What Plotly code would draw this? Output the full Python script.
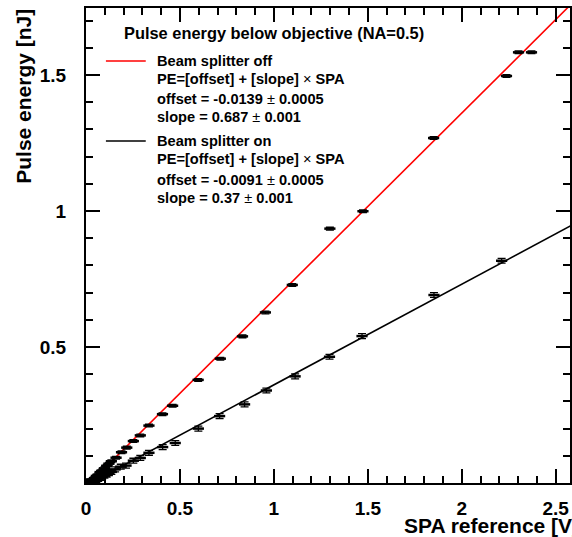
import plotly.graph_objects as go

# ---- data ----
off_x = [0.012, 0.020, 0.028, 0.036, 0.045, 0.055, 0.065, 0.075, 0.086, 0.098, 0.110, 0.122, 0.135,
         0.160, 0.189, 0.217, 0.252, 0.289, 0.335, 0.407, 0.461, 0.597, 0.715, 0.833, 0.955, 1.098,
         1.298, 1.474, 1.850, 2.238, 2.302, 2.371]
off_y = [0.004, 0.010, 0.006, 0.012, 0.018, 0.026, 0.031, 0.040, 0.046, 0.054, 0.063, 0.071, 0.080,
         0.093, 0.113, 0.130, 0.154, 0.175, 0.211, 0.253, 0.284, 0.379, 0.457, 0.539, 0.627, 0.728,
         0.935, 0.999, 1.268, 1.496, 1.583, 1.583]
off_err = [0.005] * len(off_x)

on_x = [0.012, 0.020, 0.028, 0.036, 0.045, 0.055, 0.065, 0.075, 0.086, 0.098, 0.110, 0.122, 0.135,
        0.155, 0.185, 0.213, 0.252, 0.289, 0.335, 0.408, 0.475, 0.598, 0.711, 0.844, 0.960, 1.113,
        1.296, 1.469, 1.852, 2.212]
on_y = [0.003, 0.004, 0.002, 0.006, 0.008, 0.011, 0.015, 0.019, 0.023, 0.027, 0.031, 0.036, 0.041,
        0.050, 0.060, 0.064, 0.082, 0.092, 0.111, 0.132, 0.147, 0.200, 0.246, 0.289, 0.340, 0.392,
        0.464, 0.540, 0.691, 0.817]
on_err = [0.009] * len(on_x)

fit_off = {"offset": -0.0139, "slope": 0.687}
fit_on = {"offset": -0.0091, "slope": 0.37}
fit_x = [0.0, 2.6]

x_ticks = [0, 0.5, 1, 1.5, 2, 2.5]
x_ticklabels = ["0", "0.5", "1", "1.5", "2", "2.5"]
y_ticks = [0.5, 1, 1.5]
y_ticklabels = ["0.5", "1", "1.5"]

X_RANGE = [0, 2.576]
Y_RANGE = [0, 1.746]

FONT = "Liberation Sans"
W, H = 572, 537
L, R, T, B = 86, 0, 8, 54
PW, PH = W - L - R, H - T - B


def px(x):
    return (x - L) / PW


def py(y):
    return (H - B - y) / PH


fig = go.Figure()

fig.add_trace(go.Scatter(
    x=fit_x, y=[fit_off["offset"] + fit_off["slope"] * v for v in fit_x],
    mode="lines", line=dict(color="#ff0000", width=1.6), showlegend=False, cliponaxis=True))
fig.add_trace(go.Scatter(
    x=fit_x, y=[fit_on["offset"] + fit_on["slope"] * v for v in fit_x],
    mode="lines", line=dict(color="#000000", width=1.6), showlegend=False, cliponaxis=True))

for xs, ys, es in [(off_x, off_y, off_err), (on_x, on_y, on_err)]:
    fig.add_trace(go.Scatter(
        x=xs, y=ys, mode="markers",
        marker=dict(symbol="line-ew", size=8, color="black", line=dict(color="black", width=2.5)),
        error_y=dict(type="data", array=es, visible=True, color="black", thickness=1.3, width=4),
        showlegend=False))

axis_common = dict(
    showline=True, linecolor="black", linewidth=2, mirror="ticks",
    ticks="inside", ticklen=14, tickwidth=1.5, tickcolor="black",
    showgrid=False, zeroline=False,
    tickfont=dict(family=FONT, size=19, color="black", weight="bold"),
)

fig.update_xaxes(range=X_RANGE, tickvals=x_ticks, ticktext=x_ticklabels,
                 minor=dict(dtick=0.1, tick0=0, ticks="inside", ticklen=7, tickwidth=1.5, tickcolor="black"),
                 ticklabelstandoff=7, **axis_common)
fig.update_yaxes(range=Y_RANGE, tickvals=y_ticks, ticktext=y_ticklabels,
                 minor=dict(dtick=0.1, tick0=0, ticks="inside", ticklen=7, tickwidth=1.5, tickcolor="black"),
                 ticklabelstandoff=14, **axis_common)

ann = []
# axis titles (x title runs past the right edge and is cut, as in the reference)
ann.append(dict(text="SPA reference [V]", xref="paper", yref="paper",
                x=px(403), y=py(525), xanchor="left", yanchor="middle",
                showarrow=False, font=dict(family=FONT, size=21, color="black", weight="bold")))
ann.append(dict(text="Pulse energy [nJ]", xref="paper", yref="paper", textangle=-90,
                x=px(23), y=py(7), xanchor="center", yanchor="top",
                showarrow=False, font=dict(family=FONT, size=21, color="black", weight="bold")))

# legend
lf = dict(family=FONT, size=14.6, color="black", weight="bold")
ann.append(dict(text="Pulse energy below objective (NA=0.5)", xref="paper", yref="paper",
                x=px(122), y=py(33), xanchor="left", yanchor="middle", showarrow=False,
                font=dict(family=FONT, size=16.4, color="black", weight="bold")))
pm = '<span style="font-weight:normal">±</span>'
tm = '<span style="font-weight:normal">×</span>'
legend_rows = [
    ("Beam splitter off", 61),
    ("PE=[offset] + [slope] " + tm + " SPA", 79),
    ("offset = %.4f %s 0.0005" % (fit_off["offset"], pm), 99),
    ("slope = %.3f %s 0.001" % (fit_off["slope"], pm), 117),
    ("Beam splitter on", 141),
    ("PE=[offset] + [slope] " + tm + " SPA", 159),
    ("offset = %.4f %s 0.0005" % (fit_on["offset"], pm), 180),
    ("slope = %.2f %s 0.001" % (fit_on["slope"], pm), 198),
]
for txt, yy in legend_rows:
    ann.append(dict(text=txt, xref="paper", yref="paper", x=px(155), y=py(yy),
                    xanchor="left", yanchor="middle", showarrow=False, font=lf))

shapes = [
    dict(type="line", xref="paper", yref="paper", x0=px(106), x1=px(146), y0=py(61), y1=py(61),
         line=dict(color="#ff0000", width=1.6)),
    dict(type="line", xref="paper", yref="paper", x0=px(106), x1=px(146), y0=py(141), y1=py(141),
         line=dict(color="black", width=1.6)),
]

fig.update_layout(
    width=W, height=H, margin=dict(l=L, r=R, t=T, b=B, pad=0),
    paper_bgcolor="white", plot_bgcolor="white",
    annotations=ann, shapes=shapes, showlegend=False,
)

fig.write_html("out.html")
